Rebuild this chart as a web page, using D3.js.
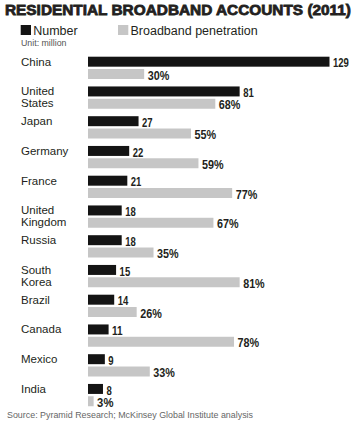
<!DOCTYPE html>
<html><head><meta charset="utf-8">
<script src="https://cdn.jsdelivr.net/npm/d3@7"></script>
<style>
html,body{margin:0;padding:0;background:#fff;}
svg{display:block;}
</style></head>
<body>
<svg id="chart" width="357" height="421"></svg>
<script>
const countries = ["China","United States","Japan","Germany","France","United Kingdom","Russia","South Korea","Brazil","Canada","Mexico","India"];
const countryLines = [["China"],["United","States"],["Japan"],["Germany"],["France"],["United","Kingdom"],["Russia"],["South","Korea"],["Brazil"],["Canada"],["Mexico"],["India"]];
const numberValues = [129,81,27,22,21,18,18,15,14,11,9,8];
const penetrationValues = [30,68,55,59,77,67,35,81,26,78,33,3];
const seriesNames = ["Number","Broadband penetration"];
const seriesColors = ["#141414","#c6c6c6"];
const titleText = "RESIDENTIAL BROADBAND ACCOUNTS (2011)";
const unitText = "Unit: million";
const sourceText = "Source: Pyramid Research; McKinsey Global Institute analysis";

const svg = d3.select("#chart");

const x = d3.scaleLinear().domain([0,129]).range([88,329.5]);
const y = d3.scaleBand().domain(countries).range([56.7, 56.7 + 12*29.75]).paddingInner(0);
const ySub = d3.scaleBand().domain(seriesNames).range([0,22.3]).paddingInner(0.19);

// Title
svg.append("text").attr("x",5).attr("y",15)
  .attr("font-family","'Liberation Sans', Arial, sans-serif")
  .attr("font-weight","bold").attr("font-size",15)
  .attr("fill","#231f20").attr("stroke","#231f20").attr("stroke-width",0.8)
  .attr("textLength",346).attr("lengthAdjust","spacingAndGlyphs")
  .text(titleText);

// Legend
const legX = [20.7, 118];
seriesNames.forEach((s,i)=>{
  svg.append("rect").attr("x",legX[i]).attr("y",25).attr("width",10.3).attr("height",10).attr("fill",seriesColors[i]);
  svg.append("text").attr("x",legX[i]+12.5).attr("y",34.8)
    .attr("font-family","'Liberation Sans', Arial, sans-serif").attr("font-size",12.5)
    .attr("fill","#231f20").text(s);
});
svg.append("text").attr("x",21).attr("y",46.3)
  .attr("font-family","'Liberation Sans', Arial, sans-serif").attr("font-size",8.8)
  .attr("fill","#555").text(unitText);

// Rows
const rows = svg.append("g").selectAll("g").data(countries).join("g")
  .attr("transform",d=>`translate(0,${y(d)})`);

rows.each(function(c,i){
  const g = d3.select(this);
  const vals = [numberValues[i], penetrationValues[i]];
  const labels = [String(numberValues[i]), penetrationValues[i] + "%"];
  seriesNames.forEach((s,j)=>{
    g.append("rect").attr("x",x(0)).attr("y",ySub(s))
      .attr("width",x(vals[j])-x(0)).attr("height",ySub.bandwidth())
      .attr("fill",seriesColors[j]);
    const lbl = labels[j];
    const nd = lbl.replace("%","").length;
    const w = nd*5.3 + (lbl.includes("%") ? 11 : 0);
    g.append("text").attr("x",x(vals[j])+3.5).attr("y",ySub(s)+10.6)
      .attr("font-family","'Liberation Sans', Arial, sans-serif")
      .attr("font-weight","bold").attr("font-size",12.2)
      .attr("textLength",w).attr("lengthAdjust","spacingAndGlyphs")
      .attr("fill","#231f20").text(lbl);
  });
  const t = g.append("text").attr("x",21).attr("y",9)
    .attr("font-family","'Liberation Sans', Arial, sans-serif").attr("font-size",11.5)
    .attr("fill","#231f20");
  countryLines[i].forEach((ln,k)=>{
    t.append("tspan").attr("x",21).attr("dy",k===0?0:12).text(ln);
  });
});

// Source
svg.append("text").attr("x",7).attr("y",418)
  .attr("font-family","'Liberation Sans', Arial, sans-serif").attr("font-size",9)
  .attr("fill","#666").attr("textLength",246).attr("lengthAdjust","spacingAndGlyphs")
  .text(sourceText);
</script>
</body></html>
